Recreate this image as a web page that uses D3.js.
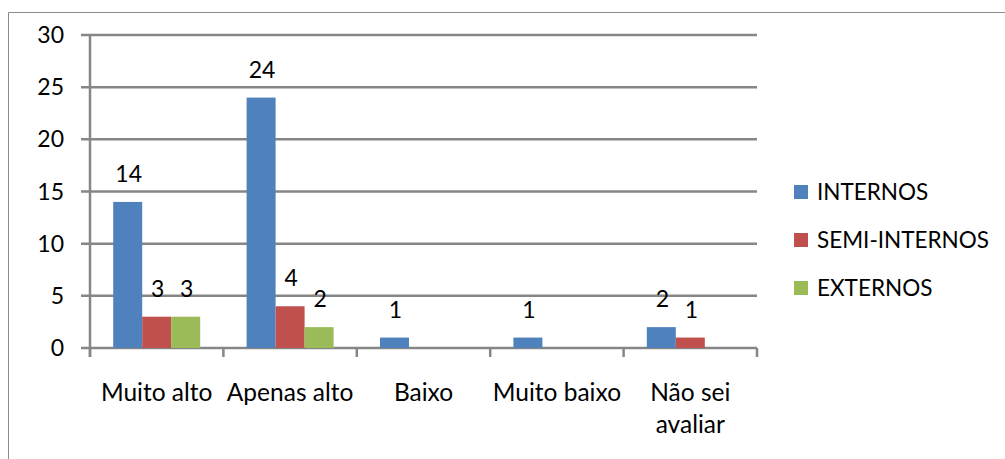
<!DOCTYPE html>
<html><head><meta charset="utf-8">
<script src="https://cdn.jsdelivr.net/npm/d3@7"></script>
<style>html,body{margin:0;padding:0;background:#fff;}svg{display:block;}</style>
</head><body>
<script>
const categories = [["Muito alto"], ["Apenas alto"], ["Baixo"], ["Muito baixo"], ["Não sei", "avaliar"]];
const seriesNames = ["INTERNOS", "SEMI-INTERNOS", "EXTERNOS"];
const internos = [14, 24, 1, 1, 2];
const semiInternos = [3, 4, null, null, 1];
const externos = [3, 2, null, null, null];
const yTicks = [0, 5, 10, 15, 20, 25, 30];
const colors = ["#4F81BD", "#C0504D", "#9BBB59"];
const seriesValues = [internos, semiInternos, externos];

const W = 1005, H = 459;
const font = "Lato, 'Liberation Sans', sans-serif";
const svg = d3.select("body").append("svg").attr("width", W).attr("height", H);

svg.append("path").attr("d", `M8.5,${H} V12.5 H${W}`).attr("fill", "none").attr("stroke", "#8c8c8c").attr("stroke-width", 1);

const x0 = d3.scaleBand().domain(d3.range(categories.length)).range([90, 757]).paddingInner(0).paddingOuter(0);
const x1 = d3.scaleBand().domain(d3.range(3)).range([0, x0.bandwidth()]).paddingInner(0).paddingOuter(0.8);
const y = d3.scaleLinear().domain([0, 30]).range([348, 35]);

const grid = "#868686";
svg.append("g").selectAll("line").data(yTicks).join("line")
  .attr("x1", 81).attr("x2", 757).attr("y1", d => y(d)).attr("y2", d => y(d))
  .attr("stroke", grid).attr("stroke-width", 2.5);
svg.append("line").attr("x1", 90).attr("x2", 90).attr("y1", y(30) - 1).attr("y2", 357).attr("stroke", grid).attr("stroke-width", 2.5);
const xt = d3.range(categories.length + 1).map(i => i < categories.length ? x0(i) : x0.range()[1]);
svg.append("g").selectAll("line").data(xt).join("line")
  .attr("x1", d => d).attr("x2", d => d).attr("y1", 348).attr("y2", 357)
  .attr("stroke", grid).attr("stroke-width", 2.5);

svg.append("g").selectAll("text").data(yTicks).join("text")
  .attr("x", 64).attr("y", d => y(d)).attr("dy", "0.35em").attr("text-anchor", "end")
  .attr("font-family", font).attr("font-size", 23).attr("fill", "#000").text(d => d);

const gBars = svg.append("g");
seriesValues.forEach((vals, s) => {
  vals.forEach((v, i) => {
    if (v == null) return;
    const bx = x0(i) + x1(s);
    gBars.append("rect").attr("x", bx).attr("width", x1.bandwidth())
      .attr("y", y(v)).attr("height", y(0) - y(v)).attr("fill", colors[s]);
    gBars.append("text").attr("x", bx + x1.bandwidth() / 2 + 1).attr("y", y(v) - 20)
      .attr("text-anchor", "middle").attr("font-family", font).attr("font-size", 23).attr("fill", "#000").text(v);
  });
});

categories.forEach((lines, i) => {
  const cx = x0(i) + x0.bandwidth() / 2;
  const t = svg.append("text").attr("x", cx).attr("y", 401)
    .attr("text-anchor", "middle").attr("font-family", font).attr("font-size", 24.5).attr("fill", "#000");
  lines.forEach((l, j) => t.append("tspan").attr("x", cx).attr("y", 401 + j * 32).text(l));
});

seriesNames.forEach((n, s) => {
  const cy = 192 + s * 48;
  svg.append("rect").attr("x", 794).attr("y", cy - 7).attr("width", 14).attr("height", 14).attr("fill", colors[s]);
  svg.append("text").attr("x", 817).attr("y", cy).attr("dy", "0.35em").attr("font-family", font)
    .attr("font-size", 22.5).attr("fill", "#000").text(n);
});
</script>
</body></html>
